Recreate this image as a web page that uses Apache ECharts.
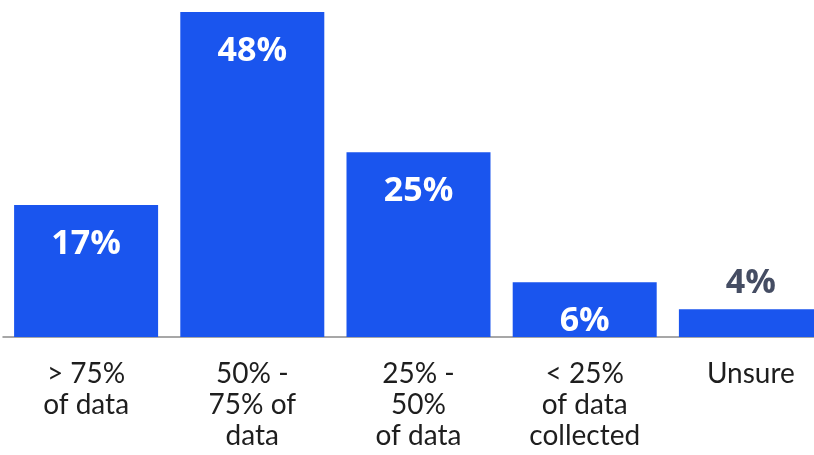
<!DOCTYPE html>
<html>
<head>
<meta charset="utf-8">
<script src="https://cdn.jsdelivr.net/npm/echarts@6/dist/echarts.min.js"></script>
<style>
html,body{margin:0;padding:0;background:#fff;}
#chart{width:814px;height:455px;}
</style>
</head>
<body>
<div id="chart"></div>
<script>
const categories = ['> 75%\nof data', '50% -\n75% of\ndata', '25% -\n50%\nof data', '< 25%\nof data\ncollected', 'Unsure'];
const values = [19.5, 48, 27.3, 8.1, 4.1];
const valueLabels = ['17%', '48%', '25%', '6%', '4%'];
const outsideLabel = [false, false, false, false, true];

const chart = echarts.init(document.getElementById('chart'));
const blue = '#1a55ee';
chart.setOption({
  animation: false,
  grid: { left: 3, right: -20, top: 12, bottom: 118, containLabel: false, outerBoundsMode: 'none' },
  xAxis: {
    type: 'category',
    data: categories,
    axisTick: { show: false },
    axisLine: { lineStyle: { color: '#8a8a8a', width: 1.5 } },
    axisLabel: {
      interval: 0,
      margin: 21,
      fontFamily: 'Lato',
      fontSize: 28,
      lineHeight: 31,
      color: '#1e1e1e',
      verticalAlign: 'top'
    }
  },
  yAxis: { type: 'value', min: 0, max: 48, show: false, splitLine: { show: false } },
  series: [{
    type: 'bar',
    barWidth: 144,
    data: values.map((v, i) => ({
      value: v,
      label: outsideLabel[i]
        ? { show: true, position: 'top', distance: 9, color: '#454d63' }
        : { show: true, position: 'insideTop', distance: 22, color: '#ffffff' }
    })),
    itemStyle: { color: blue },
    label: {
      fontFamily: 'Open Sans',
      fontWeight: 'bold',
      fontSize: 34,
      formatter: p => valueLabels[p.dataIndex]
    }
  }]
});
</script>
</body>
</html>
